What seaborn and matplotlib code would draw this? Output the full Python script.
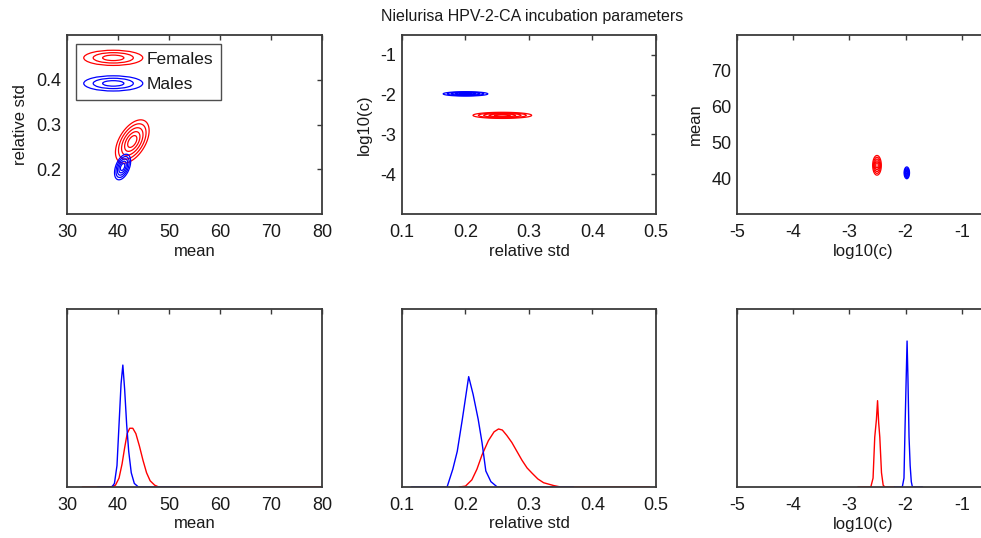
import numpy as np
import pandas as pd
import matplotlib
matplotlib.use("Agg")
import matplotlib.pyplot as plt
import seaborn as sns
from matplotlib.legend_handler import HandlerBase
from matplotlib.patches import Ellipse
from matplotlib.lines import Line2D

# ---------------- data ----------------
title = "Nielurisa HPV-2-CA incubation parameters"
groups = ["Females", "Males"]
colors = {"Females": "#ff0000", "Males": "#0000ff"}

# marginal densities (relative heights) -- mean
mean_x_f = [33, 38.5, 39.5, 40.2, 40.8, 41.3, 41.8, 42.3, 42.9, 43.5, 44.2, 44.9, 45.6, 46.3, 47.2, 48, 80]
mean_y_f = [0, 0, 0.01, 0.05, 0.13, 0.22, 0.30, 0.33, 0.33, 0.30, 0.23, 0.15, 0.08, 0.035, 0.01, 0, 0]
mean_x_m = [36, 38.8, 39.3, 39.8, 40.2, 40.6, 40.95, 41.3, 41.7, 42.1, 42.6, 43.2, 44.0, 52]
mean_y_m = [0, 0, 0.02, 0.12, 0.35, 0.58, 0.685, 0.55, 0.35, 0.20, 0.08, 0.02, 0, 0]

# relative std
rstd_x_f = [0.19, 0.20, 0.21, 0.218, 0.226, 0.236, 0.245, 0.252, 0.258, 0.265, 0.273, 0.281, 0.289, 0.297, 0.305, 0.314, 0.323, 0.339, 0.35, 0.49]
rstd_y_f = [0, 0.005, 0.04, 0.10, 0.18, 0.26, 0.31, 0.326, 0.32, 0.29, 0.25, 0.20, 0.15, 0.107, 0.077, 0.045, 0.024, 0.008, 0, 0]
rstd_x_m = [0.115, 0.171, 0.18, 0.187, 0.195, 0.205, 0.212, 0.220, 0.226, 0.232, 0.240, 0.250, 0.37]
rstd_y_m = [0, 0, 0.10, 0.20, 0.38, 0.62, 0.52, 0.38, 0.25, 0.09, 0.03, 0, 0]

# log10(c)
logc_x_f = [-2.85, -2.62, -2.58, -2.55, -2.52, -2.50, -2.48, -2.46, -2.43, -2.40, -2.37, -2.2]
logc_y_f = [0, 0, 0.05, 0.28, 0.38, 0.485, 0.36, 0.28, 0.08, 0.01, 0, 0]
logc_x_m = [-2.2, -2.06, -2.03, -2.01, -1.99, -1.975, -1.96, -1.94, -1.92, -1.90, -1.88, -1.70]
logc_y_m = [0, 0, 0.05, 0.35, 0.62, 0.82, 0.62, 0.28, 0.12, 0.03, 0, 0]

# joint-posterior contour shapes: centre, spread and correlation per panel
# panel (mean, relative std)
mr_center = {"Females": (42.8, 0.262), "Males": (40.9, 0.205)}
mr_spread = {"Females": (1.5, 0.022), "Males": (0.72, 0.013)}
mr_corr = {"Females": 0.5, "Males": 0.45}
# panel (relative std, log10(c))
rc_center = {"Females": (0.258, -2.52), "Males": (0.200, -1.98)}
rc_spread = {"Females": (0.021, 0.035), "Males": (0.016, 0.025)}
rc_corr = {"Females": 0.0, "Males": 0.0}
# panel (log10(c), mean)
cm_center = {"Females": (-2.51, 43.6), "Males": (-1.98, 41.5)}
cm_spread = {"Females": (0.035, 1.25), "Males": (0.022, 0.75)}
cm_corr = {"Females": 0.0, "Males": 0.0}
contour_k = [0.6, 1.0, 1.4, 1.8, 2.2]

# ---------------- style ----------------
sns.set_style("white")
plt.rcParams["font.family"] = ["Liberation Sans", "DejaVu Sans"]
plt.rcParams["axes.edgecolor"] = "#3a3a3a"
plt.rcParams["axes.linewidth"] = 1.3
TXT = "#1a1a1a"

W, H = 981, 538
fig = plt.figure(figsize=(W / 100, H / 100), dpi=100)

def px_axes(x0, y0, x1, y1):
    return fig.add_axes([x0 / W, 1 - y1 / H, (x1 - x0) / W, (y1 - y0) / H])

ax_tl = px_axes(67, 35, 322, 214)
ax_tm = px_axes(402, 35, 656, 214)
ax_tr = px_axes(737, 35, 990, 214)
ax_bl = px_axes(67, 309, 322, 487)
ax_bm = px_axes(402, 309, 656, 487)
ax_br = px_axes(737, 309, 990, 487)

def style(ax, xlim, ylim, xticks, yticks, xlabel, ylabel, xfmt):
    ax.set_xlim(*xlim)
    ax.set_ylim(*ylim)
    ax.set_xticks(xticks)
    ax.set_xticklabels([xfmt(v) for v in xticks])
    ax.set_yticks(yticks)
    ax.set_yticklabels([("%g" % v) for v in yticks])
    ax.tick_params(direction="in", length=3.5, width=1.0, top=True, right=True,
                   labelsize=13, colors="#3a3a3a", labelcolor=TXT, pad=4)
    ax.tick_params(axis="x", pad=7)
    ax.set_xlabel(xlabel, fontsize=12, color=TXT, labelpad=2)
    ax.set_ylabel(ylabel, fontsize=12, color=TXT, labelpad=6)
    for s in ax.spines.values():
        s.set_visible(True)

gfmt = lambda v: "%g" % v

def gauss_contours(ax, center, spread, corr, xlim, ylim, color):
    gx = np.linspace(xlim[0], xlim[1], 600)
    gy = np.linspace(ylim[0], ylim[1], 600)
    X, Y = np.meshgrid(gx, gy)
    u = (X - center[0]) / spread[0]
    v = (Y - center[1]) / spread[1]
    Q = (u * u - 2 * corr * u * v + v * v) / (1 - corr ** 2)
    ax.contour(X, Y, Q, levels=[k * k for k in contour_k], colors=color, linewidths=0.9)

# ---------------- top row: contours ----------------
lims_tl = ((30, 80), (0.1, 0.5))
lims_tm = ((0.1, 0.5), (-5, -0.5))
lims_tr = ((-5, -0.5), (30, 80))
for g in groups:
    gauss_contours(ax_tl, mr_center[g], mr_spread[g], mr_corr[g], *lims_tl, colors[g])
    gauss_contours(ax_tm, rc_center[g], rc_spread[g], rc_corr[g], *lims_tm, colors[g])
    gauss_contours(ax_tr, cm_center[g], cm_spread[g], cm_corr[g], *lims_tr, colors[g])

style(ax_tl, *lims_tl, [30, 40, 50, 60, 70, 80], [0.2, 0.3, 0.4], "mean", "relative std", gfmt)
style(ax_tm, *lims_tm, [0.1, 0.2, 0.3, 0.4, 0.5], [-4, -3, -2, -1], "relative std", "log10(c)", gfmt)
style(ax_tr, *lims_tr, [-5, -4, -3, -2, -1], [40, 50, 60, 70], "log10(c)", "mean", gfmt)

# legend with nested-ellipse icons
class EllipseHandler(HandlerBase):
    def create_artists(self, legend, orig_handle, xdescent, ydescent, width, height, fontsize, trans):
        cx = width / 2 - xdescent
        cy = height / 2 - ydescent
        arts = []
        for s in (1.0, 0.68, 0.36):
            arts.append(Ellipse((cx, cy), width * s, height * 1.25 * s, fill=False,
                                edgecolor=orig_handle.get_color(), lw=0.9, transform=trans))
        return arts

handles = [Line2D([], [], color=colors[g]) for g in groups]
leg = ax_tl.legend(handles, groups, handler_map={Line2D: EllipseHandler()},
                   loc="upper left", bbox_to_anchor=(0.035, 0.95), fontsize=12.5,
                   handlelength=3.4, handletextpad=0.2, borderpad=0.45, labelspacing=0.6,
                   frameon=True, fancybox=False, edgecolor="#222222", borderaxespad=0.0)
leg.get_frame().set_linewidth(1.0)
for t in leg.get_texts():
    t.set_color(TXT)

# ---------------- bottom row: marginals ----------------
def marg(ax, xf, yf, xm, ym):
    df_f = pd.DataFrame({"x": xf, "y": yf})
    df_m = pd.DataFrame({"x": xm, "y": ym})
    sns.lineplot(data=df_f, x="x", y="y", ax=ax, color=colors["Females"], lw=1.0, sort=False, estimator=None)
    sns.lineplot(data=df_m, x="x", y="y", ax=ax, color=colors["Males"], lw=1.0, sort=False, estimator=None)

marg(ax_bl, mean_x_f, mean_y_f, mean_x_m, mean_y_m)
marg(ax_bm, rstd_x_f, rstd_y_f, rstd_x_m, rstd_y_m)
marg(ax_br, logc_x_f, logc_y_f, logc_x_m, logc_y_m)

style(ax_bl, (30, 80), (0, 1), [30, 40, 50, 60, 70, 80], [], "mean", "", gfmt)
style(ax_bm, (0.1, 0.5), (0, 1), [0.1, 0.2, 0.3, 0.4, 0.5], [], "relative std", "", gfmt)
style(ax_br, (-5, -0.5), (0, 1), [-5, -4, -3, -2, -1], [], "log10(c)", "", gfmt)
for ax in (ax_bl, ax_bm, ax_br):
    ax.tick_params(left=False, right=False)

fig.text(532 / W, 1 - 17 / H, title, ha="center", va="center", fontsize=11.5, color=TXT)

fig.savefig("out.png", dpi=100)
